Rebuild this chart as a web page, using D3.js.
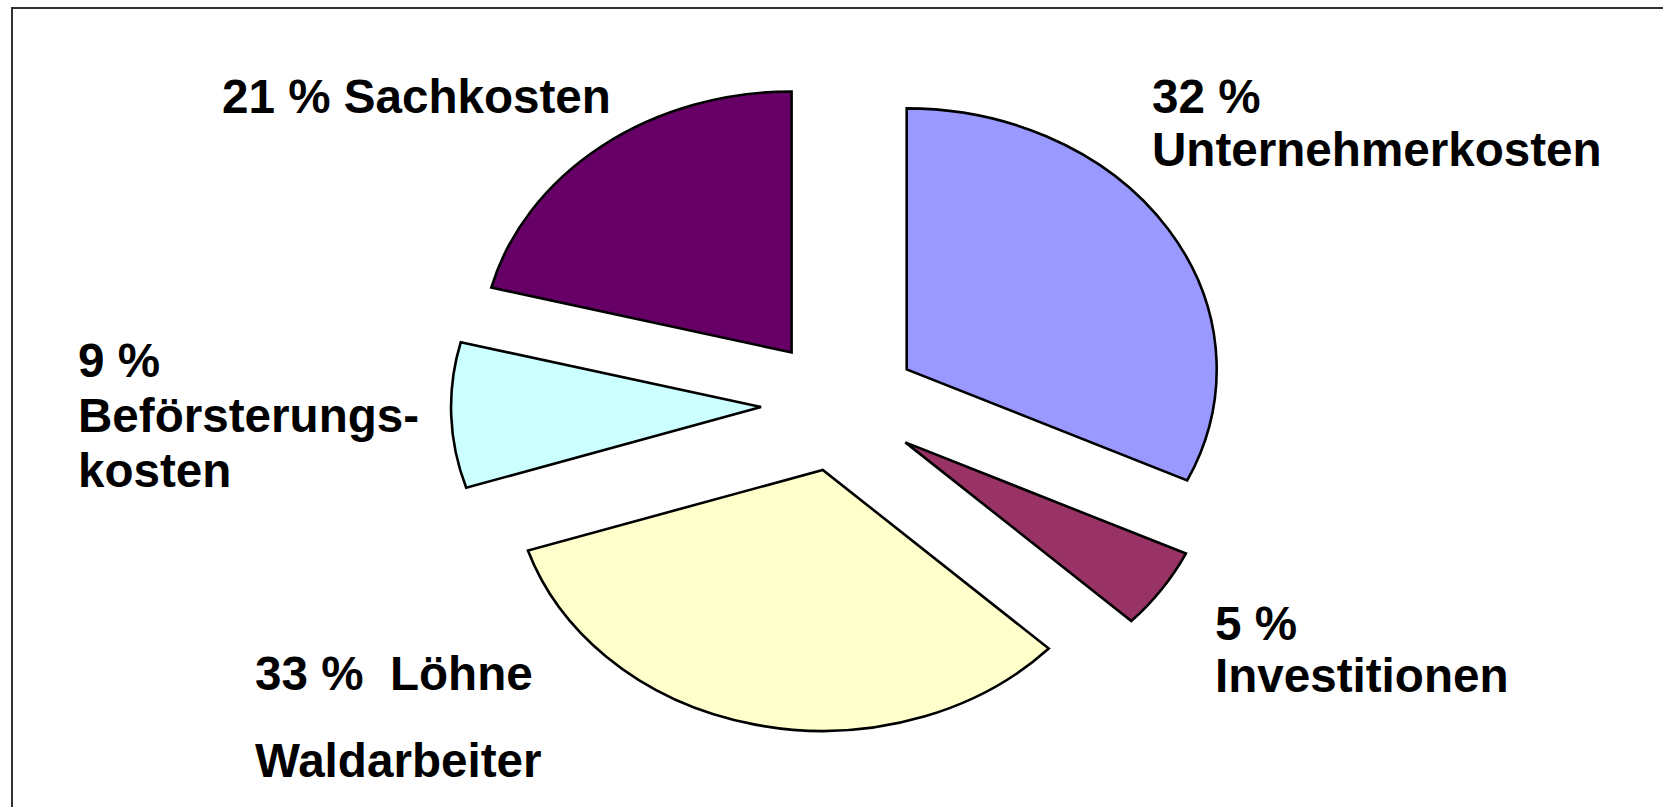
<!DOCTYPE html>
<html>
<head>
<meta charset="utf-8">
<script src="https://cdn.jsdelivr.net/npm/d3@7"></script>
<style>
  body { margin: 0; background: #fff; }
  text { font-family: "Liberation Sans", Arial, sans-serif; font-weight: bold; fill: #000; white-space: pre; }
</style>
</head>
<body>
<script>
// Data: cost shares in percent, clockwise from 12 o'clock
var categories = ["Unternehmerkosten", "Investitionen", "Löhne Waldarbeiter", "Beförsterungskosten", "Sachkosten"];
var values = [32, 5, 33, 9, 21];
var colors = ["#9999FF", "#993366", "#FFFFCC", "#CCFFFF", "#660066"];

// label text lines per slice (as printed on the chart)
var labelLines = [
  [values[0] + " %", "Unternehmerkosten"],
  [values[1] + " %", "Investitionen"],
  [values[2] + " %  Löhne", "Waldarbeiter"],
  [values[3] + " %", "Beförsterungs-", "kosten"],
  [values[4] + " % Sachkosten"]
];

// Layout
var width = 1663, height = 807;
var cx = 840, cy = 405,
    rx = 310, ry = 261,
    explode = 79;

// label anchor (left, first baseline) and line spacing
var labelPos = [
  {x: 1152, y: 113, lh: 53},
  {x: 1215, y: 640, lh: 52},
  {x: 255, y: 690, lh: 87},
  {x: 78, y: 377, lh: 55},
  {x: 222, y: 113, lh: 53}
];

var svg = d3.select("body")
    .append("svg")
    .attr("width", width)
    .attr("height", height);

// frame (runs off the right / bottom edge)
svg.append("rect")
    .attr("x", 12)
    .attr("y", 8)
    .attr("width", width + 20)
    .attr("height", height + 20)
    .style("fill", "none")
    .style("stroke", "#333")
    .style("stroke-width", 2);

var pie = d3.pie().sort(null).value(function(d) { return d; });
var arcs = pie(values);

var arc = d3.arc()
    .innerRadius(0)
    .outerRadius(rx);

// flatten the circle to an ellipse
var g = svg.append("g")
    .attr("transform", "translate(" + cx + "," + cy + ") scale(1," + (ry / rx) + ")");

g.selectAll(".slice")
    .data(arcs)
    .enter().append("path")
      .attr("class", "slice")
      .attr("transform", function(d) {
        var m = (d.startAngle + d.endAngle) / 2;
        return "translate(" + (explode * Math.sin(m)) + "," + (-explode * Math.cos(m)) + ")";
      })
      .attr("d", arc)
      .attr("vector-effect", "non-scaling-stroke")
      .style("fill", function(d, i) { return colors[i]; })
      .style("stroke", "#000")
      .style("stroke-width", 2.6)
      .style("stroke-linejoin", "miter");

// labels
var labels = svg.selectAll(".label")
    .data(labelLines)
    .enter().append("text")
      .attr("class", "label")
      .attr("x", function(d, i) { return labelPos[i].x; })
      .attr("y", function(d, i) { return labelPos[i].y; })
      .style("font-size", "47.6px");

labels.selectAll("tspan")
    .data(function(d, i) { return d.map(function(t) { return {t: t, p: labelPos[i]}; }); })
    .enter().append("tspan")
      .attr("x", function(d) { return d.p.x; })
      .attr("y", function(d, j) { return d.p.y + j * d.p.lh; })
      .text(function(d) { return d.t; });
</script>
</body>
</html>
